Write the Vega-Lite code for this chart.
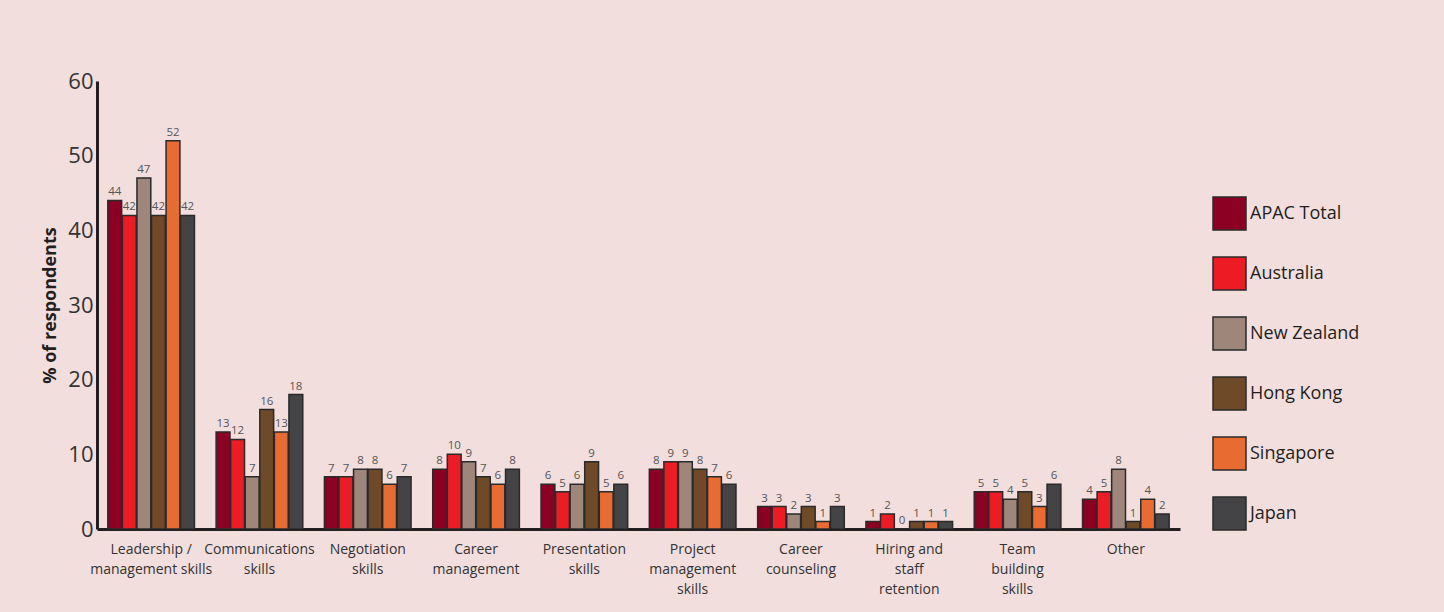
{
  "$schema": "https://vega.github.io/schema/vega-lite/v6.json",
  "autosize": {"type": "none"},
  "width": 1083,
  "height": 448,
  "padding": {"left": 97, "top": 81, "right": 264, "bottom": 83},
  "background": "#f2dedd",
  "config": {
    "font": "Open Sans",
    "view": {"stroke": null}
  },
  "data": {
    "values": [
      {"skill": "Leadership /|management skills", "region": "APAC Total", "pct": 44},
      {"skill": "Leadership /|management skills", "region": "Australia", "pct": 42},
      {"skill": "Leadership /|management skills", "region": "New Zealand", "pct": 47},
      {"skill": "Leadership /|management skills", "region": "Hong Kong", "pct": 42},
      {"skill": "Leadership /|management skills", "region": "Singapore", "pct": 52},
      {"skill": "Leadership /|management skills", "region": "Japan", "pct": 42},
      {"skill": "Communications|skills", "region": "APAC Total", "pct": 13},
      {"skill": "Communications|skills", "region": "Australia", "pct": 12},
      {"skill": "Communications|skills", "region": "New Zealand", "pct": 7},
      {"skill": "Communications|skills", "region": "Hong Kong", "pct": 16},
      {"skill": "Communications|skills", "region": "Singapore", "pct": 13},
      {"skill": "Communications|skills", "region": "Japan", "pct": 18},
      {"skill": "Negotiation|skills", "region": "APAC Total", "pct": 7},
      {"skill": "Negotiation|skills", "region": "Australia", "pct": 7},
      {"skill": "Negotiation|skills", "region": "New Zealand", "pct": 8},
      {"skill": "Negotiation|skills", "region": "Hong Kong", "pct": 8},
      {"skill": "Negotiation|skills", "region": "Singapore", "pct": 6},
      {"skill": "Negotiation|skills", "region": "Japan", "pct": 7},
      {"skill": "Career|management", "region": "APAC Total", "pct": 8},
      {"skill": "Career|management", "region": "Australia", "pct": 10},
      {"skill": "Career|management", "region": "New Zealand", "pct": 9},
      {"skill": "Career|management", "region": "Hong Kong", "pct": 7},
      {"skill": "Career|management", "region": "Singapore", "pct": 6},
      {"skill": "Career|management", "region": "Japan", "pct": 8},
      {"skill": "Presentation|skills", "region": "APAC Total", "pct": 6},
      {"skill": "Presentation|skills", "region": "Australia", "pct": 5},
      {"skill": "Presentation|skills", "region": "New Zealand", "pct": 6},
      {"skill": "Presentation|skills", "region": "Hong Kong", "pct": 9},
      {"skill": "Presentation|skills", "region": "Singapore", "pct": 5},
      {"skill": "Presentation|skills", "region": "Japan", "pct": 6},
      {"skill": "Project|management|skills", "region": "APAC Total", "pct": 8},
      {"skill": "Project|management|skills", "region": "Australia", "pct": 9},
      {"skill": "Project|management|skills", "region": "New Zealand", "pct": 9},
      {"skill": "Project|management|skills", "region": "Hong Kong", "pct": 8},
      {"skill": "Project|management|skills", "region": "Singapore", "pct": 7},
      {"skill": "Project|management|skills", "region": "Japan", "pct": 6},
      {"skill": "Career|counseling", "region": "APAC Total", "pct": 3},
      {"skill": "Career|counseling", "region": "Australia", "pct": 3},
      {"skill": "Career|counseling", "region": "New Zealand", "pct": 2},
      {"skill": "Career|counseling", "region": "Hong Kong", "pct": 3},
      {"skill": "Career|counseling", "region": "Singapore", "pct": 1},
      {"skill": "Career|counseling", "region": "Japan", "pct": 3},
      {"skill": "Hiring and|staff|retention", "region": "APAC Total", "pct": 1},
      {"skill": "Hiring and|staff|retention", "region": "Australia", "pct": 2},
      {"skill": "Hiring and|staff|retention", "region": "New Zealand", "pct": 0},
      {"skill": "Hiring and|staff|retention", "region": "Hong Kong", "pct": 1},
      {"skill": "Hiring and|staff|retention", "region": "Singapore", "pct": 1},
      {"skill": "Hiring and|staff|retention", "region": "Japan", "pct": 1},
      {"skill": "Team|building|skills", "region": "APAC Total", "pct": 5},
      {"skill": "Team|building|skills", "region": "Australia", "pct": 5},
      {"skill": "Team|building|skills", "region": "New Zealand", "pct": 4},
      {"skill": "Team|building|skills", "region": "Hong Kong", "pct": 5},
      {"skill": "Team|building|skills", "region": "Singapore", "pct": 3},
      {"skill": "Team|building|skills", "region": "Japan", "pct": 6},
      {"skill": "Other", "region": "APAC Total", "pct": 4},
      {"skill": "Other", "region": "Australia", "pct": 5},
      {"skill": "Other", "region": "New Zealand", "pct": 8},
      {"skill": "Other", "region": "Hong Kong", "pct": 1},
      {"skill": "Other", "region": "Singapore", "pct": 4},
      {"skill": "Other", "region": "Japan", "pct": 2}
    ]
  },
  "encoding": {
    "x": {
      "field": "skill",
      "type": "nominal",
      "sort": null,
      "scale": {"paddingInner": 0.2, "paddingOuter": 0.1},
      "axis": {
        "title": null,
        "labelAngle": 0,
        "labelExpr": "split(datum.label, '|')",
        "labelFontSize": 14,
        "labelLineHeight": 20,
        "labelColor": "#333333",
        "labelPadding": 13,
        "ticks": false,
        "domainColor": "#231f20",
        "domainWidth": 3
      }
    },
    "xOffset": {
      "field": "region",
      "type": "nominal",
      "sort": ["APAC Total", "Australia", "New Zealand", "Hong Kong", "Singapore", "Japan"],
      "scale": {"paddingInner": 0.05}
    },
    "y": {
      "field": "pct",
      "type": "quantitative",
      "scale": {"domain": [0, 60]},
      "axis": {
        "title": "% of respondents",
        "titleFontSize": 18,
        "titleFontWeight": "bold",
        "titleColor": "#231f20",
        "titlePadding": 8,
        "values": [0, 10, 20, 30, 40, 50, 60],
        "labelFontSize": 22,
        "labelColor": "#333333",
        "labelPadding": 4,
        "ticks": false,
        "grid": false,
        "domainColor": "#231f20",
        "domainWidth": 3
      }
    }
  },
  "layer": [
    {
      "mark": {"type": "bar", "stroke": "#2a2a2a", "strokeWidth": 1.5},
      "encoding": {
        "color": {
          "field": "region",
          "type": "nominal",
          "sort": ["APAC Total", "Australia", "New Zealand", "Hong Kong", "Singapore", "Japan"],
          "scale": {
            "domain": ["APAC Total", "Australia", "New Zealand", "Hong Kong", "Singapore", "Japan"],
            "range": ["#8b0023", "#ed1c24", "#9e877a", "#6f4a28", "#e86c32", "#444446"]
          },
          "legend": {
            "title": null,
            "orient": "none",
            "legendX": 1115,
            "legendY": 115,
            "symbolType": "square",
            "symbolSize": 1089,
            "symbolStrokeColor": "#2a2a2a",
            "symbolStrokeWidth": 1.5,
            "symbolOpacity": 1,
            "labelFontSize": 18,
            "labelColor": "#231f20",
            "labelOffset": 3,
            "rowPadding": 21
          }
        }
      }
    },
    {
      "mark": {"type": "text", "baseline": "bottom", "dy": -3, "fontSize": 11.5, "color": "#555555"},
      "encoding": {"text": {"field": "pct", "type": "quantitative"}}
    }
  ]
}
